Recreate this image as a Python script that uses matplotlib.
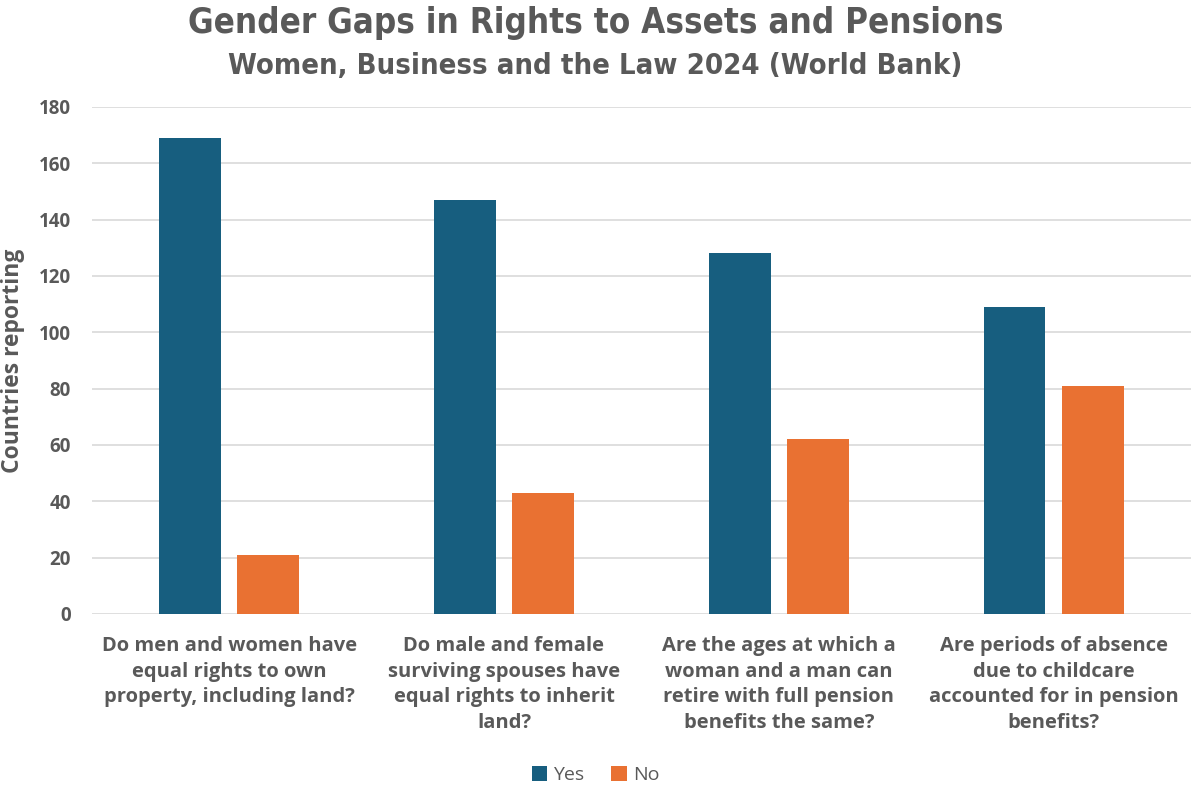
import numpy as np
import matplotlib.pyplot as plt

# Women, Business and the Law 2024: assets and pensions questions
questions = [
    "Do men and women have\nequal rights to own\nproperty, including land?",
    "Do male and female\nsurviving spouses have\nequal rights to inherit\nland?",
    "Are the ages at which a\nwoman and a man can\nretire with full pension\nbenefits the same?",
    "Are periods of absence\ndue to childcare\naccounted for in pension\nbenefits?",
]
yes_counts = [169, 147, 128, 109]
no_counts = [21, 43, 62, 81]
y_ticks = [0, 20, 40, 60, 80, 100, 120, 140, 160, 180]

blue = "#175e7f"
orange = "#e97132"
grey = "#595959"

plt.rcParams["font.family"] = ["Open Sans", "DejaVu Sans"]

fig = plt.figure(figsize=(11.91, 7.86), dpi=100)
ax = fig.add_axes([0.077, 0.219, 0.923, 0.645])

x = np.arange(len(questions))
w = 0.225
off = 0.142
ax.bar(x - off, yes_counts, w, color=blue, label="Yes", zorder=3)
ax.bar(x + off, no_counts, w, color=orange, label="No", zorder=3)

ax.set_xlim(-0.5, len(questions) - 0.5)
ax.set_ylim(0, 180)
ax.set_yticks(y_ticks)
ax.set_yticklabels([str(t) for t in y_ticks], fontsize=13.5, fontweight="bold", color=grey)
ax.set_xticks(x)
ax.set_xticklabels(questions, fontsize=14.5, fontweight="bold", color=grey, linespacing=1.38)
ax.tick_params(axis="both", length=0)
ax.tick_params(axis="x", pad=16)
ax.tick_params(axis="y", pad=15)
ax.grid(axis="y", color="#d9d9d9", linewidth=1.2, zorder=0)
for s in ax.spines.values():
    s.set_visible(False)

fig.text(0.011, 0.5 * (0.219 + 0.864), "Countries reporting", rotation=90, ha="center", va="center",
         fontsize=16.5, fontweight="bold", color=grey)

fig.text(0.5, 0.993, "Gender Gaps in Rights to Assets and Pensions", ha="center", va="top",
         fontsize=25, fontweight="bold", color=grey, family="DejaVu Sans", stretch="condensed")
fig.text(0.5, 0.934, "Women, Business and the Law 2024 (World Bank)", ha="center", va="top",
         fontsize=21, fontweight="bold", color=grey, family="DejaVu Sans", stretch="condensed")

fig.legend(loc="lower center", bbox_to_anchor=(0.5, -0.02), ncol=2, frameon=False,
           handlelength=0.8, handleheight=0.8, handletextpad=0.3, columnspacing=1.4,
           prop={"size": 14}, labelcolor=grey)

fig.savefig("out.png", dpi=100)
